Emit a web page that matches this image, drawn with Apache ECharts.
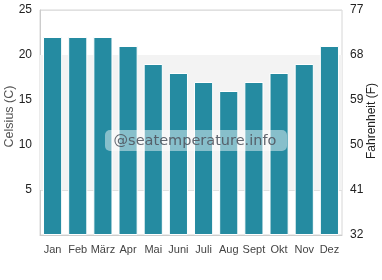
<!DOCTYPE html>
<html>
<head>
<meta charset="utf-8">
<script src="https://cdn.jsdelivr.net/npm/echarts@6/dist/echarts.min.js"></script>
<style>html,body{margin:0;padding:0;background:#fff}#c{width:382px;height:280px}</style>
</head>
<body>
<div id="c"></div>
<script>
var months = ['Jan','Feb','März','Apr','Mai','Juni','Juli','Aug','Sept','Okt','Nov','Dez'];
var celsius = [22,22,22,21,19,18,17,16,17,18,19,21];
var celsiusTicks = [0,5,10,15,20,25];
var fahrenheitTicks = [32,41,50,59,68,77];
var bandRange = [5,20];

var chart = echarts.init(document.getElementById('c'), null, {renderer:'canvas'});
var font = 'Liberation Sans, Arial, sans-serif';
chart.setOption({
  animation:false,
  grid:{left:40,right:40,top:10,bottom:45,containLabel:false,outerBoundsMode:'none',show:true,borderColor:'#d6d6d6',borderWidth:1},
  xAxis:{type:'category',data:months,
    axisLine:{lineStyle:{color:'#cccccc'}},axisTick:{show:false},
    axisLabel:{color:'#444',fontSize:11,fontFamily:font,margin:9,interval:0,hideOverlap:false}},
  yAxis:[
    {type:'value',min:0,max:25,interval:5,name:'Celsius (C)',nameLocation:'middle',nameGap:24,nameMoveOverlap:false,
     nameTextStyle:{color:'#555',fontSize:12.5,fontFamily:font,padding:[0,0,0,12]},
     axisLine:{show:true,lineStyle:{color:'#cccccc'}},axisTick:{show:false},
     splitLine:{lineStyle:{color:'#e0e0e0'}},
     axisLabel:{color:'#222',fontSize:12,fontFamily:font,margin:8,
       formatter:function(v){return v===0?'':String(v);}}},
    {type:'value',min:0,max:25,interval:5,name:'Fahrenheit (F)',nameLocation:'middle',nameGap:24,nameMoveOverlap:false,
     nameTextStyle:{color:'#222',fontSize:12,fontFamily:font,padding:[0,0,0,3]},
     axisLine:{show:false},axisTick:{show:false},splitLine:{show:false},
     axisLabel:{color:'#222',fontSize:12,fontFamily:font,margin:8,
       formatter:function(v){var i=celsiusTicks.indexOf(v);return i>=0?String(fahrenheitTicks[i]):'';}}}
  ],
  series:[{type:'bar',data:celsius,barCategoryGap:'24%',
    itemStyle:{color:'#258ba1',borderColor:'#ffffff',borderWidth:1},
    markArea:{silent:true,itemStyle:{color:'#f3f3f3'},data:[[{yAxis:bandRange[0]},{yAxis:bandRange[1]}]]},
    z:2}],
  graphic:{elements:[
    {type:'rect',x:105,y:130,z:100,shape:{x:0,y:0,width:182,height:21,r:5},style:{fill:'rgba(255,255,255,0.45)'}},
    {type:'text',x:195,y:141,z:101,style:{text:'@seatemperature.info',fill:'rgba(80,85,95,0.9)',
      fontSize:14.5,fontFamily:'DejaVu Sans',align:'center',verticalAlign:'middle'}}
  ]}
});
</script>
</body>
</html>
